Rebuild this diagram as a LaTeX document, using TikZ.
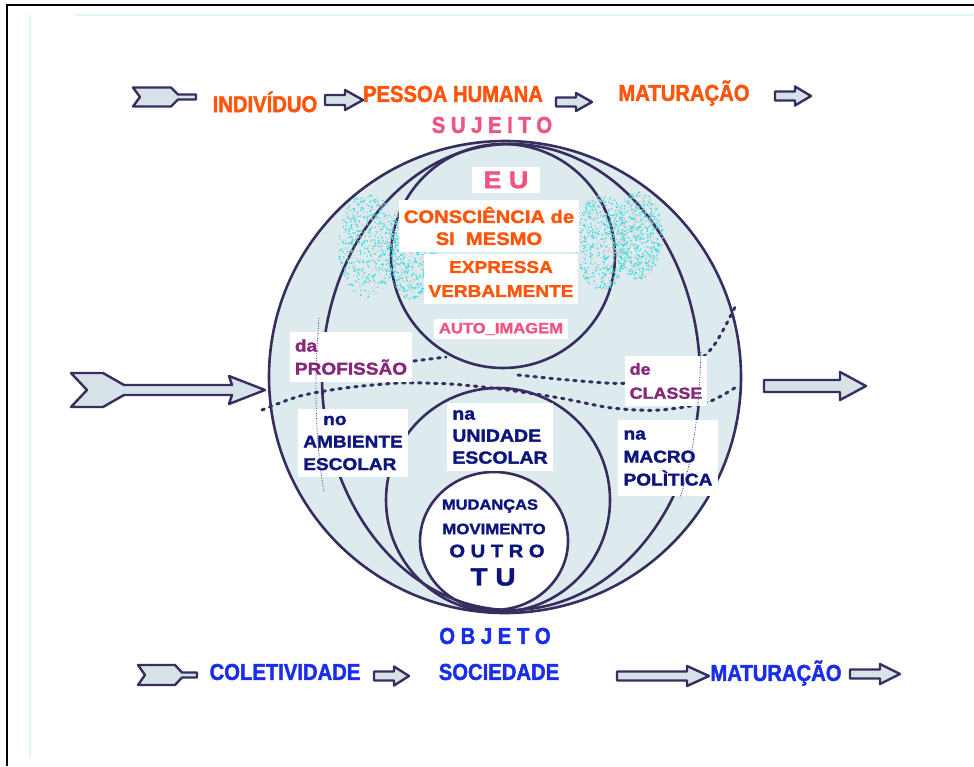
\documentclass[tikz,border=0pt]{standalone}
\usepackage{fontspec}
\setmainfont{Liberation Sans}
\newfontfamily\condf{Liberation Sans}[FakeStretch=0.88, BoldFeatures={FakeBold=1.8}]
\newfontfamily\widef{Liberation Sans}[FakeStretch=1.12, BoldFeatures={FakeBold=1.8}]
\usetikzlibrary{positioning}

\definecolor{orangeT}{RGB}{255,85,10}
\definecolor{pinkT}{RGB}{240,85,130}
\definecolor{purpleT}{RGB}{135,40,120}
\definecolor{navyT}{RGB}{12,20,125}
\definecolor{blueT}{RGB}{25,45,235}
\definecolor{ink}{RGB}{55,45,95}
\definecolor{sphere}{RGB}{222,235,238}
\definecolor{shade}{RGB}{215,226,232}
\definecolor{cloud}{RGB}{40,225,230}

\newcommand{\fsz}[2]{\fontsize{#1}{#2}\selectfont}

\tikzset{
  inkline/.style={draw=ink, line width=2.6pt},
  arrowbody/.style={draw=ink, fill=shade, line width=2.4pt, line join=round},
  lbl/.style={font=\condf\bfseries\fsz{23}{25}, inner sep=0pt},
  inlbl/.style={inner sep=0pt},
  whitebox/.style={fill=white, inner xsep=5pt, inner ysep=7pt},
  bigdots/.style={draw=ink, line width=3pt, line cap=round, dash pattern=on 2.5pt off 5.5pt},
  thindots/.style={draw=navyT!80, line width=0.8pt, dash pattern=on 1pt off 1.5pt},
  pics/blk/.style n args={4}{code={
    \filldraw[arrowbody] (0,-#3) -- ({#1-#2},-#3) -- ({#1-#2},-#4) -- (#1,0)
      -- ({#1-#2},#4) -- ({#1-#2},#3) -- (0,#3) -- cycle;
  }},
  pics/fletch/.style n args={4}{code={
    \filldraw[arrowbody] (0,-#2) -- ({#1-7},-#2) -- (#1,-#4) -- ({#1+#3},-#4)
      -- ({#1+#3},#4) -- (#1,#4) -- ({#1-7},#2) -- (0,#2) -- (7,0) -- cycle;
  }}
}

\begin{document}
\begin{tikzpicture}[x=1pt, y=-1pt]
\useasboundingbox (0,0) rectangle (974,766);

% moldura
\draw[cyan!12, line width=1.5pt] (30,758) -- (30,15);
\draw[cyan!12, line width=1.5pt] (75,15) -- (974,15);
\draw[black, line width=1.6pt] (7,766) -- (7,5) -- (974,5);

% esfera
\fill[sphere] (505,377) circle (236pt);
\fill[white] (494,541) ellipse [x radius=74pt, y radius=69pt];
\draw[inkline] (505,377) circle (236pt);
\draw[inkline] (511,377) ellipse [x radius=189pt, y radius=233pt];
\draw[inkline] (503,256) circle (112pt);
\draw[inkline] (498,500) circle (112pt);
\draw[inkline] (494,541) ellipse [x radius=74pt, y radius=69pt];

% nuvens
\pgfmathsetseed{42}
\foreach \cx/\cy/\rx/\ry in {368/245/30/52, 412/250/25/50, 602/242/27/48, 638/235/25/44} {
  \foreach \k in {1,...,330} {
    \pgfmathsetmacro\ang{360*rnd}
    \pgfmathsetmacro\rr{sqrt(rnd)}
    \fill[cloud] ({\cx+\rx*\rr*cos(\ang)},{\cy+\ry*\rr*sin(\ang)}) circle (0.9pt);
    \pgfmathsetmacro\ang{360*rnd}
    \pgfmathsetmacro\rr{sqrt(rnd)}
    \fill[gray!40] ({\cx+\rx*\rr*cos(\ang)},{\cy+\ry*\rr*sin(\ang)}) circle (0.8pt);
  }
}

% linhas pontilhadas
\draw[bigdots] (398,363) -- (446,357);
\draw[bigdots] plot[smooth] coordinates {(518,375) (580,381) (628,383) (680,372) (712,348) (736,305)};
\draw[bigdots] plot[smooth] coordinates {(262,410) (300,396) (345,388) (400,383) (450,384)
  (500,389) (560,398) (612,408) (660,410) (708,402) (736,387)};

% textos da esfera
\node[whitebox, text=pinkT, font=\widef\bfseries\fsz{24}{28}, inner xsep=12pt, inner ysep=5pt] (eu) at (506,180) {E U};
\node[whitebox, text=orangeT, align=center, font=\widef\bfseries\fsz{18}{22}] (consc) at (489,226) {CONSCIÊNCIA de\\SI\ \ MESMO};
\node[whitebox, text=orangeT, align=center, font=\widef\bfseries\fsz{17}{24}] (expr) at (501,279) {EXPRESSA\\VERBALMENTE};
\node[whitebox, text=pinkT, font=\widef\bfseries\fsz{14.8}{18}, inner ysep=4pt] (auto) at (501,329) {AUTO\_IMAGEM};
\node[whitebox, text=purpleT, align=left, font=\widef\bfseries\fsz{17}{23}] (prof) at (351,357) {da\\PROFISSÃO};
\node[whitebox, text=purpleT, align=left, font=\widef\bfseries\fsz{16}{24}] (classe) at (666,381) {de\\CLASSE};
\node[whitebox, text=navyT, align=left, font=\widef\bfseries\fsz{17}{22.5}] (amb) at (353,443) {\hspace{20pt}no\\AMBIENTE\\ESCOLAR};
\node[whitebox, text=navyT, align=left, font=\widef\bfseries\fsz{17.4}{22}] (unid) at (500,437) {na\\UNIDADE\\ESCOLAR};
\node[whitebox, text=navyT, align=left, font=\widef\bfseries\fsz{17}{23}, inner xsep=6pt, inner ysep=10pt] (macro) at (668,458) {na\\MACRO\\POLÌTICA};

\node[inlbl, text=navyT, font=\widef\bfseries\fsz{14.7}{18}] (mud) at (490,506) {MUDANÇAS};
\node[inlbl, text=navyT, font=\widef\bfseries\fsz{15}{18}] (mov) at (494,529) {MOVIMENTO};
\node[inlbl, text=navyT, font=\widef\bfseries\fsz{18}{22}] (outro) at (497,551) {O U T R O};
\node[inlbl, text=navyT, font=\widef\bfseries\fsz{25}{28}] (tu) at (493,577) {T U};

\draw[thindots] (319,318) .. controls (314,380) and (315,440) .. (324,492);
\draw[thindots] (701,352) .. controls (699,410) and (694,455) .. (680,498);

% linha de cima
\pic at (133,97) {fletch={45}{9.5}{18}{2.5}};
\node[lbl, text=orangeT] (indiv) at (265,102) {INDIVÍDUO};
\pic at (325,100) {blk={38}{18}{5}{10}};
\node[lbl, text=orangeT] (pessoa) at (453,94) {PESSOA HUMANA};
\pic at (556,102) {blk={36}{16}{4.5}{9}};
\node[lbl, text=orangeT] (matur) at (684,93) {MATURAÇÃO};
\pic at (775,96) {blk={36}{16}{4.5}{9.5}};
\node[lbl, text=pinkT] (sujeito) at (492,125) {S U J E I T O};

% setas do meio
\filldraw[arrowbody] (71,373) -- (103,373) -- (124,385) -- (232,385) -- (229,376) -- (265,390)
  -- (229,404) -- (232,395) -- (124,395) -- (103,407) -- (71,407) -- (87,390) -- cycle;
\pic at (764,386) {blk={102}{26}{6}{14}};

% linha de baixo
\node[lbl, text=blueT] (objeto) at (495,636) {O B J E T O};
\pic at (138,675) {fletch={44}{10}{15}{2.5}};
\node[lbl, text=blueT] (colet) at (285,672) {COLETIVIDADE};
\pic at (374,676) {blk={35}{15}{4.5}{9.5}};
\node[lbl, text=blueT] (socied) at (499,672) {SOCIEDADE};
\pic at (617,676) {blk={92}{22}{4.5}{10}};
\node[lbl, text=blueT] (maturB) at (776,673) {MATURAÇÃO};
\pic at (850,674) {blk={50}{20}{4.5}{10}};
\end{tikzpicture}
\end{document}
